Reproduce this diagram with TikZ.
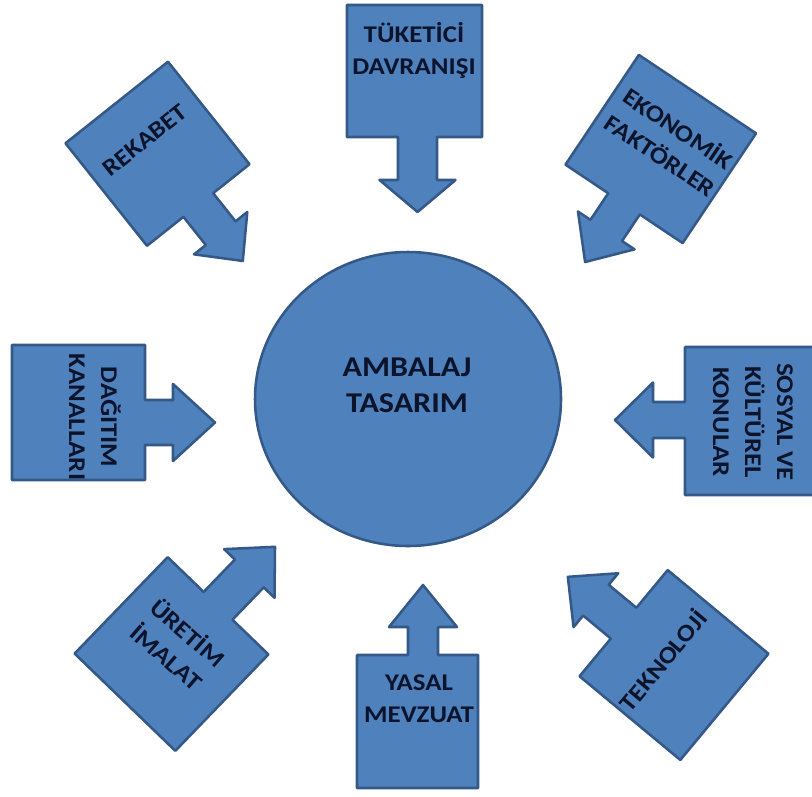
\documentclass[tikz,border=0pt]{standalone}
\usepackage{fontspec}
\newfontfamily\cfont[FakeStretch=1.12]{Carlito}
\usetikzlibrary{shapes.geometric}
\definecolor{boxfill}{HTML}{4F81BD}
\definecolor{boxline}{HTML}{345887}
\definecolor{txt}{RGB}{12,20,44}
\tikzset{
  cfill/.style={fill=boxfill, draw=boxline, line width=1.9pt, line join=round},
  ctext/.style={font=\cfont\bfseries\fontsize{18}{24}\selectfont, text=txt, align=center, inner sep=0pt},
  bigtext/.style={font=\cfont\bfseries\fontsize{21.5}{27}\selectfont, text=txt, align=center, inner sep=0pt}
}
% #1 half width, #2 half height, #3 shaft half width, #4 shaft length,
% #5 head half width, #6 head length, #7 axis offset
\newcommand\cshape[7]{%
  \draw[cfill] (-#1,-#2) -- (#1,-#2) -- (#1,#2) -- ({#7+#3},#2) -- ({#7+#3},{#2+#4})
    -- ({#7+#5},{#2+#4}) -- (#7,{#2+#4+#6}) -- ({#7-#5},{#2+#4}) -- ({#7-#3},{#2+#4})
    -- ({#7-#3},#2) -- (-#1,#2) -- cycle;}
\begin{document}
\begin{tikzpicture}[x=0.75pt,y=-0.75pt]
\useasboundingbox (0,0) rectangle (812,796);
\clip (0,0) rectangle (812,796);
% centre
\node[ellipse, cfill, minimum width=229.5pt, minimum height=220.5pt, inner sep=0pt] (c) at (408,399) {};
\node[bigtext] (ct) at (407,385) {AMBALAJ\\TASARIM};
% top
\begin{scope}[shift={(414.5,71)}, rotate=0]\cshape{67.5}{66}{19.5}{43}{38}{32}{3}\end{scope}
\node[ctext] (t1) at (414,50) {TÜKETİCİ\\DAVRANIŞI};
% bottom
\begin{scope}[shift={(417.5,721.5)}, rotate=180]\cshape{60.5}{66.5}{15}{28}{34}{42}{-5.5}\end{scope}
\node[ctext] (t2) at (419,699) {YASAL\\MEVZUAT};
% left
\begin{scope}[shift={(78.5,412.5)}, rotate=90]\cshape{67.5}{66.5}{22.5}{28}{38.5}{42}{-10}\end{scope}
\node[ctext, rotate=-90] (t3) at (95,417) {DAĞITIM\\KANALLARI};
% right
\begin{scope}[shift={(752.5,421)}, rotate=-90]\cshape{74}{67.5}{18}{32}{37.5}{38}{-1}\end{scope}
\node[ctext, rotate=-90] (t4) at (753,422) {SOSYAL VE\\KÜLTÜREL\\KONULAR};
% top-left
\begin{scope}[shift={(157.5,153.75)}, rotate=38.5]\cshape{65.5}{65.5}{19}{36}{34}{35.5}{0}\end{scope}
\node[ctext, rotate=38.5] (t5) at (145,140) {REKABET};
% top-right
\begin{scope}[shift={(660.75,149)}, rotate=-33.8]\cshape{70.5}{66}{19}{32}{34}{38}{0}\end{scope}
\node[ctext, rotate=-33.8] (t6) at (670,141) {EKONOMİK\\FAKTÖRLER};
% bottom-left
\begin{scope}[shift={(171.5,654)}, rotate=136]\cshape{70}{67}{20}{45}{35}{37}{0}\end{scope}
\node[ctext, rotate=-41] (t7) at (178,644) {ÜRETİM\\İMALAT};
% bottom-right
\begin{scope}[shift={(674,665)}, rotate=-129.7]\cshape{69}{65.5}{20}{36}{35}{36.5}{0}\end{scope}
\node[ctext, rotate=50.3] (t8) at (662,660) {TEKNOLOJİ};
\end{tikzpicture}
\end{document}
